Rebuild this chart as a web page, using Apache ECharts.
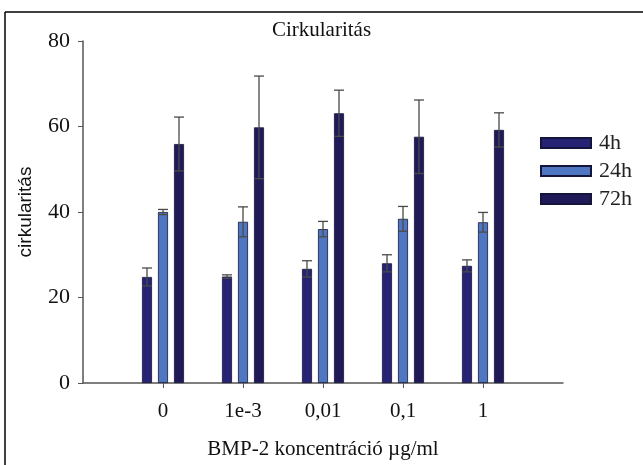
<!DOCTYPE html>
<html>
<head>
<meta charset="utf-8">
<script src="https://cdn.jsdelivr.net/npm/echarts@6/dist/echarts.min.js"></script>
<style>html,body{margin:0;padding:0;background:#fff}#c{width:643px;height:465px}</style>
</head>
<body>
<div id="c"></div>
<script>
var categories = ['0', '1e-3', '0,01', '0,1', '1'];
var seriesNames = ['4h', '24h', '72h'];
var values4h = [24.8, 24.9, 26.7, 28.0, 27.4];
var values24h = [40.0, 37.7, 36.0, 38.4, 37.6];
var values72h = [55.9, 59.8, 63.1, 57.6, 59.2];
var err4h = [2.1, 0.4, 1.9, 2.0, 1.4];
var err24h = [0.6, 3.5, 1.8, 2.9, 2.3];
var err72h = [6.3, 12.0, 5.4, 8.6, 4.0];
var yTicks = [0, 20, 40, 60, 80];

var colors = ['#272374', '#4f76c1', '#201b58'];
var values = [values4h, values24h, values72h];
var errs = [err4h, err24h, err72h];
var offsets = [-16, 0, 16];

var cats = [''].concat(categories).concat(['']);
function pad(a) { return ['-'].concat(a).concat(['-']); }

var series = [];
values.forEach(function (v, s) {
  series.push({
    name: seriesNames[s], type: 'bar', data: pad(v), barWidth: 10, barGap: '60%',
    itemStyle: { color: colors[s], borderColor: '#15143a', borderWidth: 0.8 },
    emphasis: { disabled: true }
  });
});
values.forEach(function (v, s) {
  var d = v.map(function (val, i) { return [i + 1, val, errs[s][i]]; });
  series.push({
    type: 'custom', z: 5, silent: true,
    data: d,
    renderItem: function (params, api) {
      var x = api.value(0), val = api.value(1), e = api.value(2);
      var top = api.coord([x, val + e]);
      var bot = api.coord([x, val - e]);
      var cx = top[0] + offsets[s];
      var st = { stroke: '#4a4a4a', lineWidth: 1.3 };
      var hw = 5;
      return { type: 'group', children: [
        { type: 'line', shape: { x1: cx, y1: top[1], x2: cx, y2: bot[1] }, style: st },
        { type: 'line', shape: { x1: cx - hw, y1: top[1], x2: cx + hw, y2: top[1] }, style: st },
        { type: 'line', shape: { x1: cx - hw, y1: bot[1], x2: cx + hw, y2: bot[1] }, style: st }
      ] };
    }
  });
});

var chart = echarts.init(document.getElementById('c'));
chart.setOption({
  animation: false,
  backgroundColor: '#fff',
  title: {
    text: 'Cirkularitás', left: 'center', top: 15,
    textStyle: { fontFamily: 'Liberation Serif', fontSize: 21, fontWeight: 'normal', color: '#111' }
  },
  legend: {
    orient: 'vertical', left: 535, top: 127, icon: 'rect',
    itemWidth: 50, itemHeight: 10, itemGap: 6,
    data: seriesNames,
    textStyle: { fontFamily: 'Liberation Serif', fontSize: 22, color: '#222', lineHeight: 21, padding: [0, 0, 0, 3] }
  },
  grid: { left: 83, top: 41, width: 480, height: 346, containLabel: false },
  xAxis: {
    type: 'category', data: cats, boundaryGap: false,
    name: 'BMP-2 koncentráció µg/ml', nameLocation: 'middle', nameGap: 56,
    nameTextStyle: { fontFamily: 'Liberation Serif', fontSize: 21, color: '#111' },
    axisLine: { lineStyle: { color: '#555', width: 1.5 } },
    axisTick: { length: 5, lineStyle: { color: '#555' }, interval: function (i, v) { return v !== ''; } },
    axisLabel: { margin: 18, interval: 0, fontFamily: 'Liberation Serif', fontSize: 21, color: '#111' },
    splitLine: { show: false }
  },
  yAxis: {
    type: 'value', min: yTicks[0], max: yTicks[yTicks.length - 1], interval: 20,
    axisLine: { show: true, lineStyle: { color: '#555', width: 1.5 } },
    axisTick: { show: true, length: 5, lineStyle: { color: '#555' } },
    axisLabel: { margin: 13, fontFamily: 'Liberation Serif', fontSize: 22, color: '#111' },
    splitLine: { show: false }
  },
  graphic: [
    { type: 'line', shape: { x1: 5, y1: 12, x2: 643, y2: 12 }, style: { stroke: '#000', lineWidth: 1.5 } },
    { type: 'line', shape: { x1: 5, y1: 12, x2: 5, y2: 465 }, style: { stroke: '#000', lineWidth: 1.5 } },
    { type: 'text', x: 26, y: 212, rotation: Math.PI / 2,
      style: { text: 'cirkularitás', fontFamily: 'Liberation Sans', fontSize: 19, fill: '#111', align: 'center', verticalAlign: 'middle' } }
  ],
  series: series
});
</script>
</body>
</html>
